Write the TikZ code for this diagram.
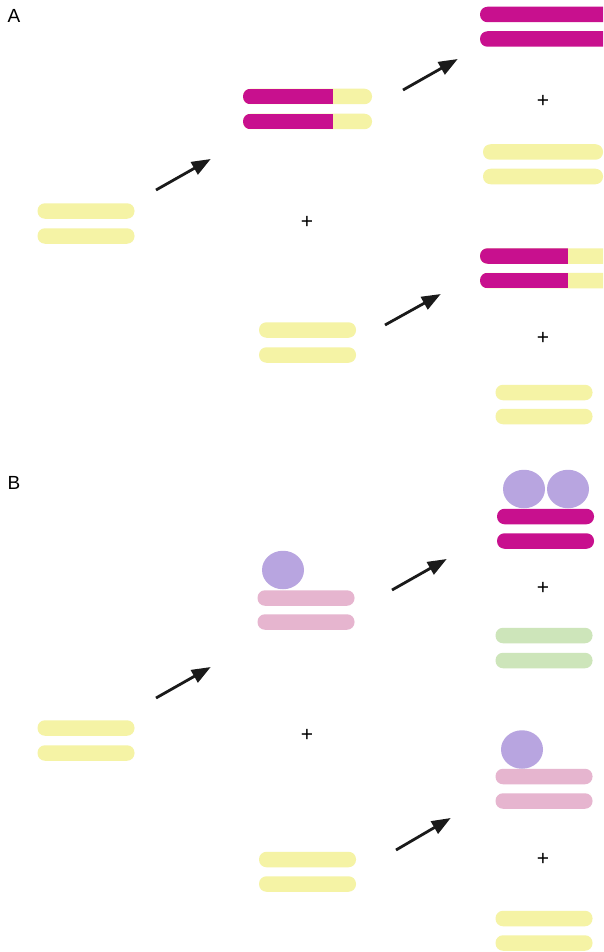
\documentclass[tikz,border=0pt]{standalone}
\usepackage{fontspec}
\setmainfont{Liberation Sans}
\usetikzlibrary{arrows.meta,shapes.geometric}
\definecolor{mag}{HTML}{C8108E}
\definecolor{yel}{HTML}{F5F3A5}
\definecolor{pnk}{HTML}{E6B5CF}
\definecolor{lav}{HTML}{B8A5E0}
\definecolor{grn}{HTML}{CDE5BA}
\definecolor{arr}{HTML}{1A1A1A}
\tikzset{
  bar/.style={rectangle, rounded corners=7.5pt, minimum height=15.5pt, inner sep=0pt, draw=none},
  barY/.style={bar, fill=yel},
  barM/.style={bar, fill=mag},
  barP/.style={bar, fill=pnk},
  barG/.style={bar, fill=grn},
  twotone/.style={bar, fill=yel, path picture={
      \fill[mag, sharp corners] (path picture bounding box.south west) rectangle ([xshift=#1]path picture bounding box.north west);}},
  prot/.style={ellipse, fill=lav, minimum width=42pt, minimum height=38.5pt, inner sep=0pt},
  plus/.style={font=\fontsize{21}{21}\selectfont, inner sep=0pt},
  lab/.style={font=\fontsize{19}{19}\selectfont, inner sep=0pt},
  rx/.style={draw=arr, line width=2.8pt, -{Triangle[length=19pt, width=14pt]}, shorten >=-2pt}
}
\begin{document}
\begin{tikzpicture}[x=1pt, y=-1pt]
\useasboundingbox (0,0) rectangle (603,952);
\clip (0,0) rectangle (603,952);
\fill[white] (0,0) rectangle (603,952);
% ---------- A ----------
\node[lab] (labA) at (14,16) {A};
\node[barY, minimum width=97pt] (aL1) at (86,211) {};
\node[barY, minimum width=97pt] (aL2) at (86,236) {};
\node[twotone=90pt, minimum width=129pt] (aM1) at (307.5,96.5) {};
\node[twotone=90pt, minimum width=129pt] (aM2) at (307.5,121.5) {};
\node[plus] (aP1) at (307,222) {+};
\node[barY, minimum width=97pt] (aM3) at (307.5,330) {};
\node[barY, minimum width=97pt] (aM4) at (307.5,355) {};
\node[barM, minimum width=136pt] (aR1) at (548,14.5) {};
\node[barM, minimum width=136pt] (aR2) at (548,39) {};
\node[plus] (aP2) at (543,101) {+};
\node[barY, minimum width=120pt] (aR3) at (543,152) {};
\node[barY, minimum width=120pt] (aR4) at (543,176.5) {};
\node[twotone=88pt, minimum width=136pt] (aR5) at (548,256) {};
\node[twotone=88pt, minimum width=136pt] (aR6) at (548,280.5) {};
\node[plus] (aP3) at (543,338) {+};
\node[barY, minimum width=97pt] (aR7) at (544,392.5) {};
\node[barY, minimum width=97pt] (aR8) at (544,416.5) {};
\coordinate (a1s) at (156,190); \coordinate (a1e) at (209,160);
\coordinate (a2s) at (403,90);  \coordinate (a2e) at (456,60);
\coordinate (a3s) at (385,325); \coordinate (a3e) at (439,295);
\draw[rx] (a1s) -- (a1e);
\draw[rx] (a2s) -- (a2e);
\draw[rx] (a3s) -- (a3e);
% ---------- B ----------
\node[lab] (labB) at (14,483) {B};
\node[barY, minimum width=97pt] (bL1) at (86,728) {};
\node[barY, minimum width=97pt] (bL2) at (86,753) {};
\node[prot] (bMc) at (283,570) {};
\node[barP, minimum width=97pt] (bM1) at (306,598) {};
\node[barP, minimum width=97pt] (bM2) at (306,622) {};
\node[plus] (bP1) at (307,735) {+};
\node[barY, minimum width=97pt] (bM3) at (307.5,859.5) {};
\node[barY, minimum width=97pt] (bM4) at (307.5,884) {};
\node[prot] (bRc1) at (524,489) {};
\node[prot] (bRc2) at (568,489) {};
\node[barM, minimum width=97pt] (bR1) at (545.5,516.5) {};
\node[barM, minimum width=97pt] (bR2) at (545.5,541) {};
\node[plus] (bP2) at (543,588) {+};
\node[barG, minimum width=97pt] (bR3) at (544,635.5) {};
\node[barG, minimum width=97pt] (bR4) at (544,660.5) {};
\node[prot] (bRc3) at (522,749.5) {};
\node[barP, minimum width=97pt] (bR5) at (544,776.5) {};
\node[barP, minimum width=97pt] (bR6) at (544,801) {};
\node[plus] (bP3) at (543,859) {+};
\node[barY, minimum width=97pt] (bR7) at (544,918.5) {};
\node[barY, minimum width=97pt] (bR8) at (544,943) {};
\coordinate (b1s) at (156,698); \coordinate (b1e) at (209,668);
\coordinate (b2s) at (392,590); \coordinate (b2e) at (445,560);
\coordinate (b3s) at (396,850); \coordinate (b3e) at (449,819);
\draw[rx] (b1s) -- (b1e);
\draw[rx] (b2s) -- (b2e);
\draw[rx] (b3s) -- (b3e);
\end{tikzpicture}
\end{document}
